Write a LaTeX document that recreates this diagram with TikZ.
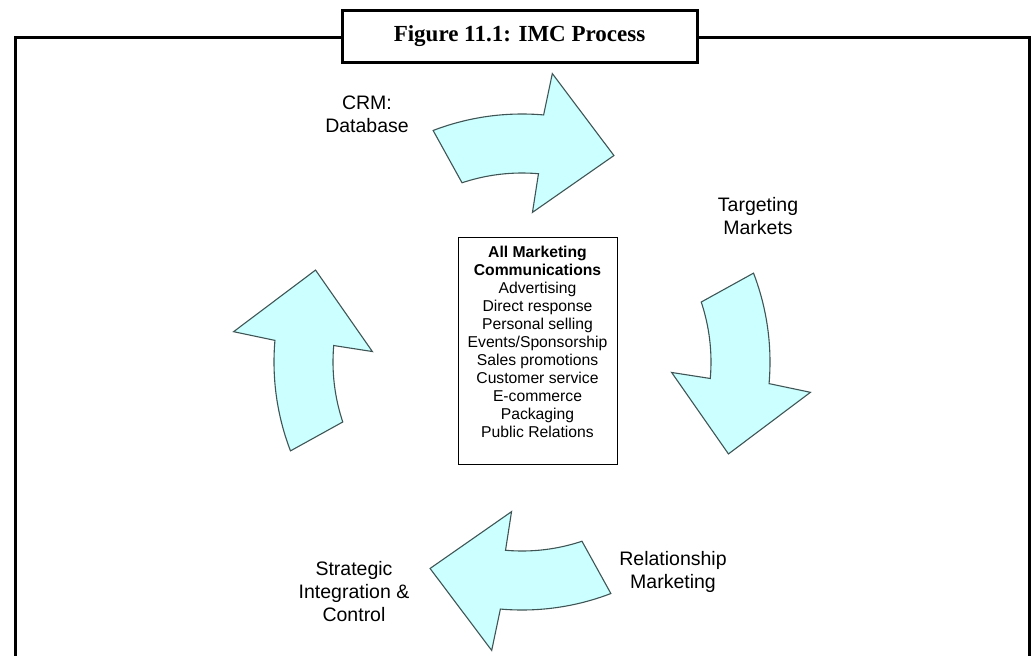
\documentclass[tikz,border=0pt]{standalone}
\usepackage{fontspec}
\setmainfont{Liberation Serif}
\setsansfont{Liberation Sans}
\definecolor{arrowfill}{HTML}{CCFFFF}
\definecolor{arrowline}{HTML}{3F5555}
\begin{document}
\begin{tikzpicture}[x=1pt,y=-1pt,
  arrowshape/.style={fill=arrowfill, draw=arrowline, line width=1.1pt, line join=miter},
  lbl/.style={font=\fontsize{19.5}{23}\selectfont\sffamily, align=center, inner sep=0},
  frameline/.style={line width=3pt, draw=black},
  imcarrow/.pic={\draw[arrowshape, x=1pt, y=1pt] (111:248) arc[start angle=111,end angle=85,radius=248] -- (84:290) -- (66:226) -- (86:150) -- (85:189) arc[start angle=85,end angle=108.5,radius=189] -- cycle;}]
\useasboundingbox[fill=white] (0,0) rectangle (1031,656);
\draw[frameline] (15,700) -- (15,37) -- (1029,37) -- (1029,700);
\node[draw, line width=3pt, fill=white, minimum width=355, minimum height=52, inner sep=0,
  font=\fontsize{23}{26}\selectfont\bfseries] (title) at (519.5,36) {Figure 11.1: IMC Process};
\begin{scope}[shift={(522,362)}, xscale=1.035]
\pic[rotate=0] at (0,0) {imcarrow};
\pic[rotate=-90] at (0,0) {imcarrow};
\pic[rotate=-180] at (0,0) {imcarrow};
\pic[rotate=-270] at (0,0) {imcarrow};
\end{scope}
\node[draw, line width=1pt, minimum width=159, minimum height=227, inner sep=0] (box) at (537.5,350.5) {};
\node[anchor=north, font=\fontsize{15.7}{18}\selectfont\sffamily, align=center, inner sep=0] (list) at (537.5,246)
 {\textbf{All Marketing}\\\textbf{Communications}\\Advertising\\Direct response\\Personal selling\\Events/Sponsorship\\Sales promotions\\Customer service\\E-commerce\\Packaging\\Public Relations};
\node[lbl] (crm) at (367,114.5) {CRM:\\Database};
\node[lbl] (tgt) at (758,216.5) {Targeting\\Markets};
\node[lbl] (rel) at (673,571.5) {Relationship\\Marketing};
\node[lbl] (str) at (354,592) {Strategic\\Integration \&\\Control};
\end{tikzpicture}
\end{document}
